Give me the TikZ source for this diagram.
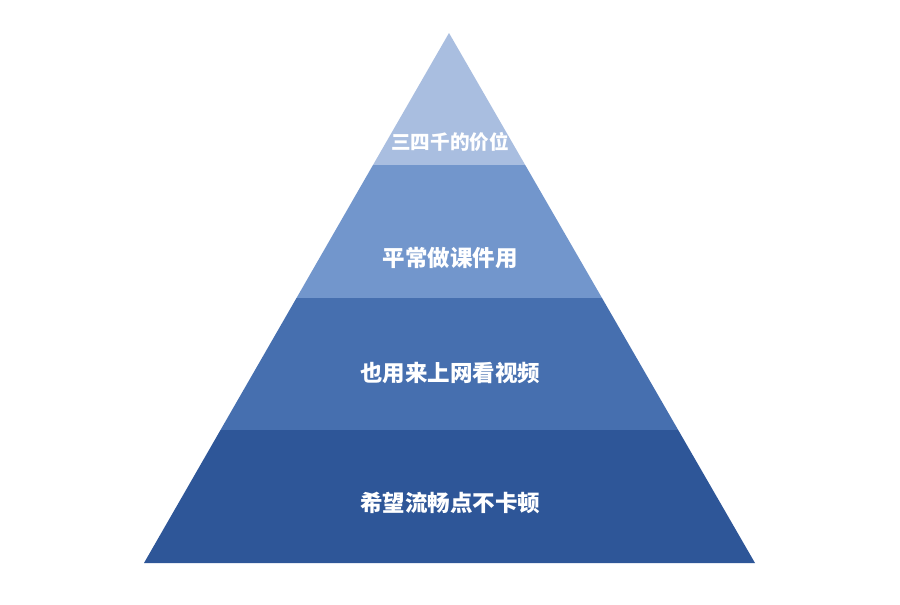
\documentclass[tikz,border=0pt]{standalone}
\usepackage{fontspec}
\newfontfamily\cjk{Noto Sans CJK SC}
\definecolor{pyrtop}{RGB}{169,190,224}
\definecolor{pyrmid}{RGB}{114,150,204}
\definecolor{pyrlow}{RGB}{70,111,175}
\definecolor{pyrbase}{RGB}{46,86,152}
\usetikzlibrary{positioning}

\begin{document}
\begin{tikzpicture}[
  x=1pt, y=-1pt,
  tier/.style={draw=none},
  tierlabel/.style={
    text=white, inner sep=0pt,
    font=\cjk\bfseries\fontsize{22.5}{22.5}\selectfont
  }
]
\useasboundingbox[fill=white] (0,0) rectangle (900,605);

% pyramid tiers, top to bottom
\fill[tier, pyrtop]  (449,33) -- (525.2,165) -- (373,165) -- cycle;
\fill[tier, pyrmid]  (373,165) -- (525.2,165) -- (602,298) -- (296.5,298) -- cycle;
\fill[tier, pyrlow]  (296.5,298) -- (602,298) -- (678.2,430) -- (220.5,430) -- cycle;
\fill[tier, pyrbase] (220.5,430) -- (678.2,430) -- (755,563) -- (144,563) -- cycle;

\node[tierlabel, font=\cjk\bfseries\fontsize{19.6}{19.6}\selectfont] (t1) at (450,142) {三四千的价位};
\node[tierlabel] (t2) at (450,258) {平常做课件用};
\node[tierlabel] (t3) at (450,373) {也用来上网看视频};
\node[tierlabel] (t4) at (450,503) {希望流畅点不卡顿};
\end{tikzpicture}
\end{document}
